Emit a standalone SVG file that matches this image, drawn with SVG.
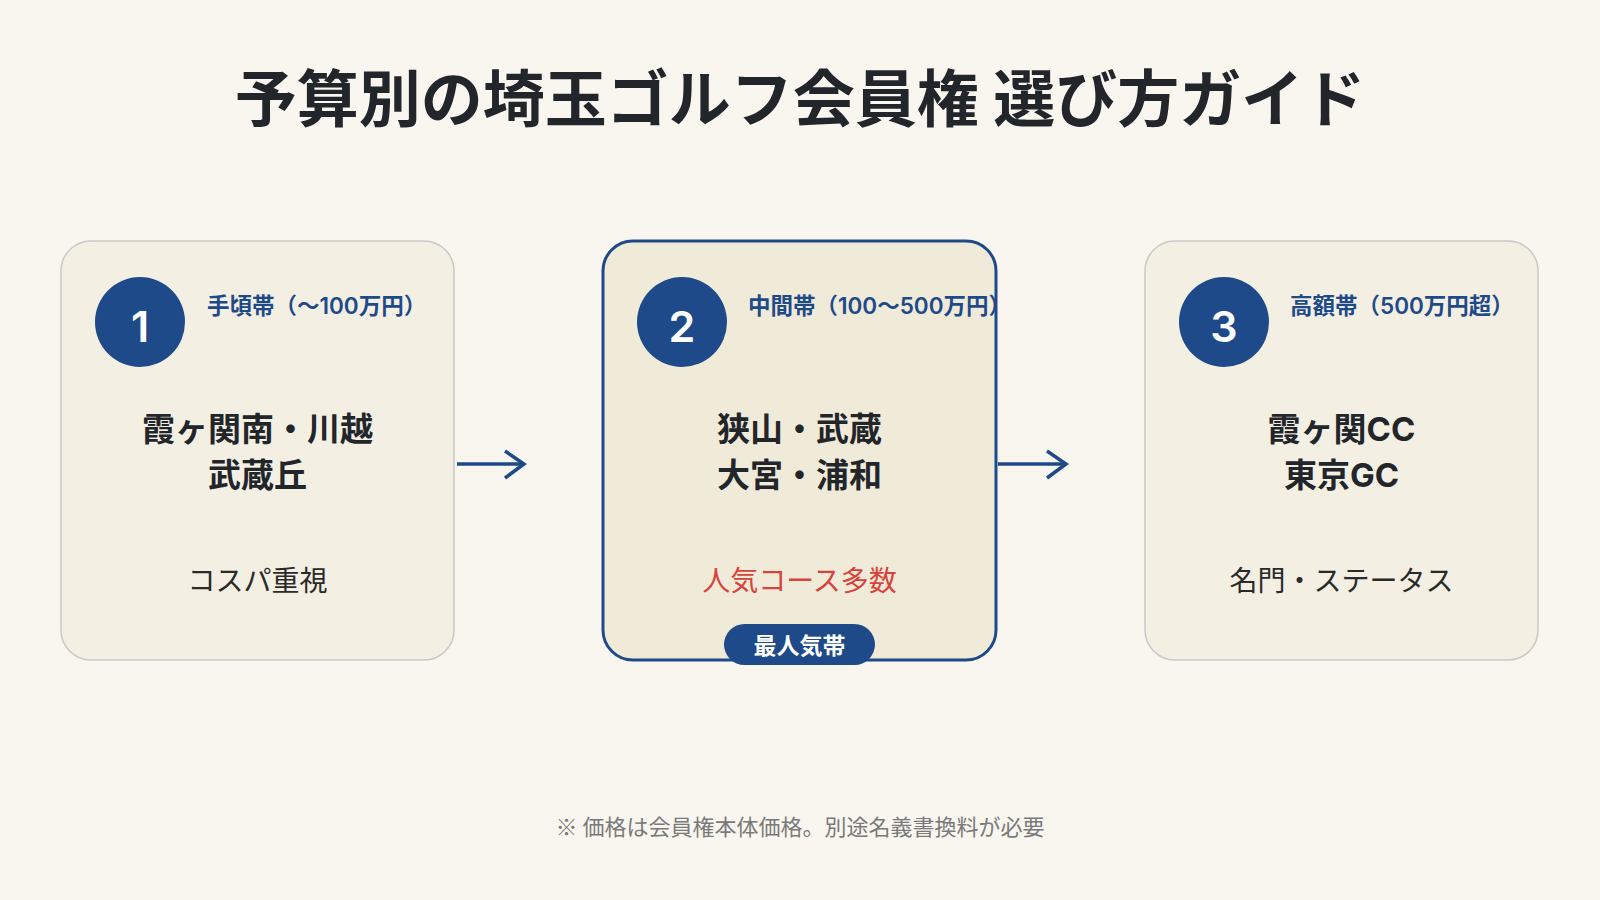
<svg xmlns="http://www.w3.org/2000/svg" width="1600" height="900" viewBox="0 0 1600 900">
<defs>
<style>
text{font-family:Inter,"Noto Sans CJK JP","Noto Sans",sans-serif;}
.card{fill:#f3efe3;stroke:#c9c8c4;stroke-width:1.5;}
.card-hl{fill:#f0ead9;stroke:#1e4a8a;stroke-width:3;}
.num-c{fill:#1e4a8a;}
.num{fill:#ffffff;font-size:43px;font-weight:600;text-anchor:middle;}
.lbl{fill:#1e4a8a;font-size:22.5px;font-weight:600;}
.main{fill:#22262b;font-size:33px;font-weight:700;text-anchor:middle;}
.sub{fill:#2a2a2a;font-size:28px;font-weight:400;text-anchor:middle;}
.sub-red{fill:#d7433a;}
.note{font-family:"Noto Sans CJK JP","Noto Sans",sans-serif;fill:#7a7a7a;font-size:22px;text-anchor:middle;}
.conn{stroke:#1e4a8a;stroke-width:3.5;fill:none;stroke-linecap:butt;stroke-linejoin:miter;}
</style>
</defs>
<rect width="1600" height="900" fill="#f8f6ef"/>
<text x="800" y="122" text-anchor="middle" font-size="62" font-weight="700" fill="#22262b">予算別の埼玉ゴルフ会員権 選び方ガイド</text>

<g id="node1">
<rect class="card" x="61" y="241" width="393" height="419" rx="30"/>
<circle class="num-c" cx="140" cy="322" r="45"/>
<text class="num" x="140" y="342">1</text>
<text class="lbl" x="207" y="314">手頃帯（～100万円）</text>
<text class="main" x="257.5" y="441">霞ヶ関南・川越</text>
<text class="main" x="257.5" y="487">武蔵丘</text>
<text class="sub" x="257.5" y="591">コスパ重視</text>
</g>

<g id="node2">
<rect class="card-hl" x="603" y="241" width="393" height="419" rx="30"/>
<circle class="num-c" cx="682" cy="322" r="45"/>
<text class="num" x="682" y="342">2</text>
<text class="lbl" x="748" y="314">中間帯（100〜500万円）</text>
<text class="main" x="799.5" y="441">狭山・武蔵</text>
<text class="main" x="799.5" y="487">大宮・浦和</text>
<text class="sub sub-red" x="799.5" y="591">人気コース多数</text>
<g id="badge">
<rect x="724" y="624" width="151" height="41" rx="20.5" fill="#1e4a8a"/>
<text x="799.5" y="654" text-anchor="middle" font-size="23" font-weight="700" fill="#ffffff">最人気帯</text>
</g>
</g>

<g id="node3">
<rect class="card" x="1145" y="241" width="393" height="419" rx="30"/>
<circle class="num-c" cx="1224" cy="322" r="45"/>
<text class="num" x="1224" y="342">3</text>
<text class="lbl" x="1290" y="314">高額帯（500万円超）</text>
<text class="main" x="1341.5" y="441">霞ヶ関CC</text>
<text class="main" x="1341.5" y="487">東京GC</text>
<text class="sub" x="1341.5" y="591">名門・ステータス</text>
</g>

<g id="connectors">
<path class="conn" d="M457 464 H523"/>
<path class="conn" d="M505 451 L524 464 L505 478"/>
<path class="conn" d="M998 464 H1065"/>
<path class="conn" d="M1047 451 L1066 464 L1047 478"/>
</g>

<text class="note" x="800" y="835">※ 価格は会員権本体価格。別途名義書換料が必要</text>
</svg>
